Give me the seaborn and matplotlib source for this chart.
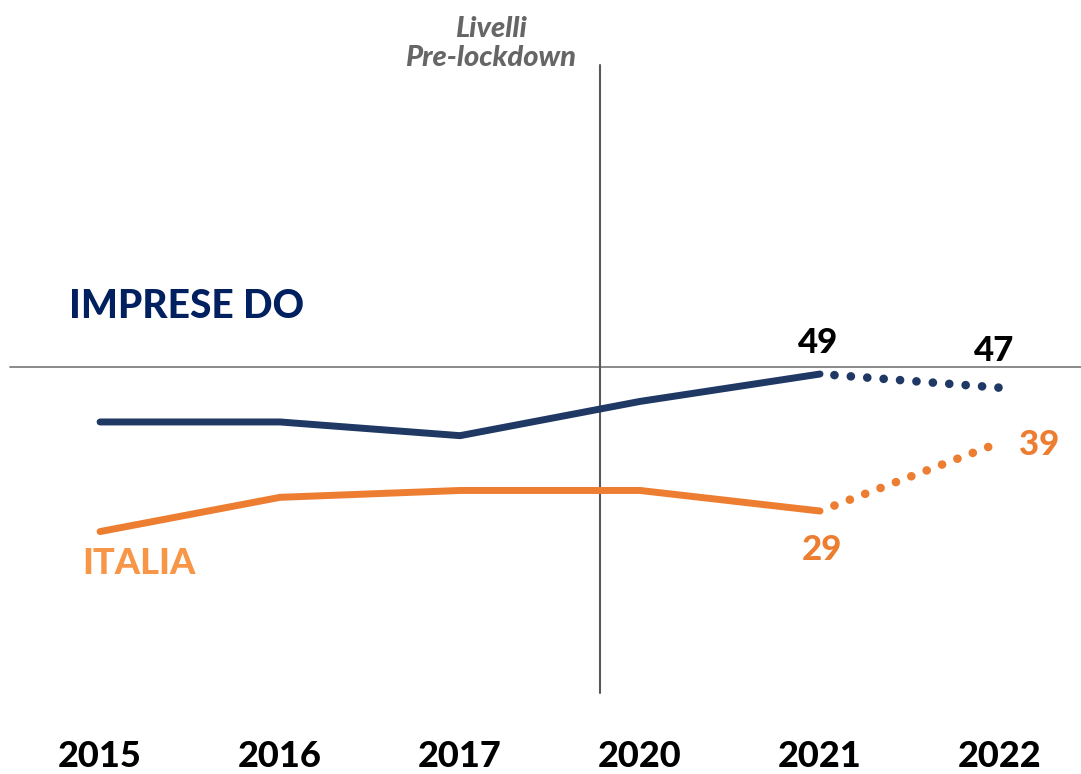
import pandas as pd
import matplotlib.pyplot as plt
import seaborn as sns

years = ["2015", "2016", "2017", "2020", "2021", "2022"]
imprese = [42, 42, 40, 45, 49, 47]
italia = [26, 31, 32, 32, 29, 39]
baseline = 50

NAVY = "#1F3864"
ORANGE = "#ED7D31"
ORANGE_LABEL = "#F79646"

sns.set_theme(style="white")
plt.rcParams["font.family"] = ["Lato", "DejaVu Sans"]

rows = []
for i, y in enumerate(years):
    rows.append({"pos": i, "serie": "IMPRESE DO", "val": imprese[i],
                 "tipo": "actual" if i <= 4 else "forecast"})
    rows.append({"pos": i, "serie": "ITALIA", "val": italia[i],
                 "tipo": "actual" if i <= 4 else "forecast"})
df = pd.DataFrame(rows)
actual = df[df["tipo"] == "actual"]

fig = plt.figure(figsize=(10.81, 7.74), dpi=100)
ax = fig.add_axes([0, 0, 1, 1])

palette = {"IMPRESE DO": NAVY, "ITALIA": ORANGE}
sns.lineplot(data=actual, x="pos", y="val", hue="serie", palette=palette,
             linewidth=5, legend=False, ax=ax, solid_capstyle="round")

# dotted projection 2021 -> 2022, starting a bit after 2021
for name, vals, col in [("IMPRESE DO", imprese, NAVY), ("ITALIA", italia, ORANGE)]:
    x0, x1 = 4, 5
    y0, y1 = vals[4], vals[5]
    t = 0.08
    seg = pd.DataFrame({"pos": [x0 + t * (x1 - x0), x1],
                        "val": [y0 + t * (y1 - y0), y1]})
    sns.lineplot(data=seg, x="pos", y="val", color=col, linewidth=6.2, ax=ax,
                 dashes=False, linestyle=(0, (0.01, 1.9)),
                 dash_capstyle="round")

# reference lines
ax.plot([-0.5, 5.45], [baseline, baseline], color="#808080", lw=1.3, zorder=0)
ax.plot([2.78, 2.78], [2.4, 94.1], color="#595959", lw=1.5, zorder=0)

ax.set_xlim(-0.556, 5.45)
ax.set_ylim(-9.39, 103.6)
ax.axis("off")

# year labels
for i, y in enumerate(years):
    ax.text(i, -6.9, y, ha="center", va="center", fontsize=26,
            fontweight="black", color="black")

# series names
ax.text(-0.17, 58.9, "IMPRESE DO", ha="left", va="center", fontsize=28,
        fontweight="black", color="#002060")
ax.text(-0.1, 21.4, "ITALIA", ha="left", va="center", fontsize=26,
        fontweight="black", color=ORANGE_LABEL)

# value labels
ax.text(3.99, 53.6, str(imprese[4]), ha="center", va="center", fontsize=25,
        fontweight="black", color="black")
ax.text(4.97, 52.3, str(imprese[5]), ha="center", va="center", fontsize=25,
        fontweight="black", color="black")
ax.text(4.01, 23.3, str(italia[4]), ha="center", va="center", fontsize=25,
        fontweight="black", color=ORANGE)
ax.text(5.22, 38.6, str(italia[5]), ha="center", va="center", fontsize=25,
        fontweight="black", color=ORANGE)

ax.text(2.17, 97.3, "Livelli\nPre-lockdown", ha="center", va="center",
        fontsize=21, fontweight="black", fontstyle="italic", color="#666666",
        linespacing=1.15)

fig.savefig("out.png", dpi=100)
